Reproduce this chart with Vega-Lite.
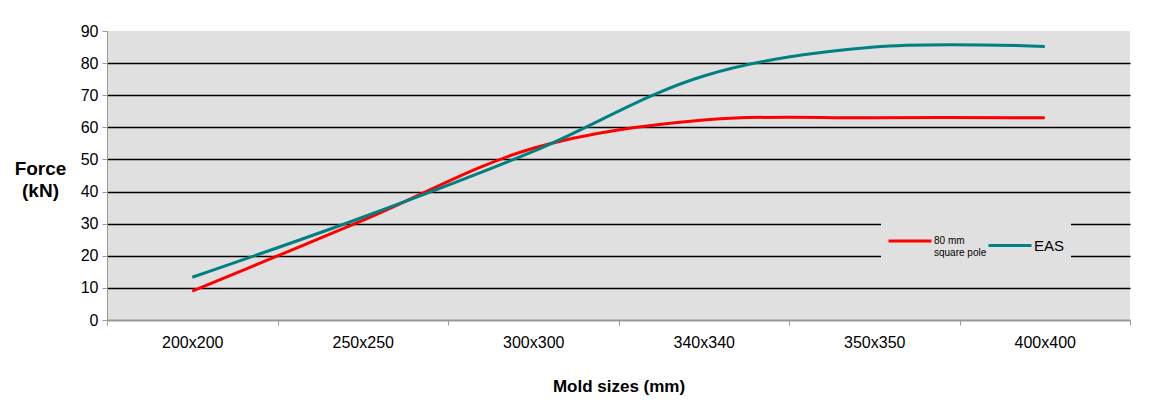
{
  "$schema": "https://vega.github.io/schema/vega-lite/v6.json",
  "width": 1023,
  "height": 289,
  "autosize": "none",
  "padding": {"left": 107, "top": 31, "right": 34, "bottom": 83},
  "background": "white",
  "config": {
    "font": "Liberation Sans",
    "view": {"fill": "#e0e0e0", "stroke": null}
  },
  "data": {
    "values": [
      {"size": "200x200", "series": "80 mm square pole", "force": 9},
      {"size": "250x250", "series": "80 mm square pole", "force": 31},
      {"size": "300x300", "series": "80 mm square pole", "force": 53.5},
      {"size": "340x340", "series": "80 mm square pole", "force": 62.3},
      {"size": "350x350", "series": "80 mm square pole", "force": 63},
      {"size": "400x400", "series": "80 mm square pole", "force": 63},
      {"size": "200x200", "series": "EAS", "force": 13.3},
      {"size": "250x250", "series": "EAS", "force": 32},
      {"size": "300x300", "series": "EAS", "force": 52.5},
      {"size": "340x340", "series": "EAS", "force": 76},
      {"size": "350x350", "series": "EAS", "force": 85},
      {"size": "400x400", "series": "EAS", "force": 85.2}
    ]
  },
  "mark": {"type": "line", "interpolate": "catmull-rom", "strokeWidth": 3},
  "encoding": {
    "x": {
      "field": "size",
      "type": "nominal",
      "sort": null,
      "scale": {"type": "band", "paddingInner": 0, "paddingOuter": 0},
      "axis": {
        "title": "Mold sizes (mm)",
        "titleFontSize": 17,
        "titleFontWeight": "bold",
        "titleColor": "black",
        "titlePadding": 28,
        "labelAngle": 0,
        "labelFontSize": 16,
        "labelColor": "black",
        "labelPadding": 9,
        "tickBand": "extent",
        "tickColor": "#999999",
        "tickSize": 5,
        "domainColor": "#999999",
        "domainWidth": 2,
        "grid": false
      }
    },
    "y": {
      "field": "force",
      "type": "quantitative",
      "scale": {"domain": [0, 90], "nice": false},
      "axis": {
        "values": [0, 10, 20, 30, 40, 50, 60, 70, 80, 90],
        "title": ["Force", "(kN)"],
        "titleAngle": 0,
        "titleFontSize": 19,
        "titleFontWeight": "bold",
        "titleColor": "black",
        "titleAlign": "center",
        "titleBaseline": "middle",
        "titleLineHeight": 22,
        "titleX": -67,
        "titleY": 137,
        "labelFontSize": 16,
        "labelColor": "black",
        "labelPadding": 4,
        "tickColor": "#999999",
        "tickSize": 5,
        "domainColor": "#999999",
        "grid": true,
        "gridColor": "black",
        "gridWidth": 1.5,
        "gridOpacity": {"condition": {"test": "datum.value == 0 || datum.value == 90", "value": 0}, "value": 1}
      }
    },
    "color": {
      "field": "series",
      "type": "nominal",
      "scale": {"domain": ["80 mm square pole", "EAS"], "range": ["#ff0000", "#008080"]},
      "legend": {
        "title": null,
        "orient": "none",
        "legendX": 774,
        "legendY": 181,
        "direction": "horizontal",
        "fillColor": "#e0e0e0",
        "padding": 6,
        "symbolType": "stroke",
        "symbolSize": 1849,
        "symbolStrokeWidth": 3,
        "labelLimit": 200,
        "columnPadding": -5,
        "labelOffset": 1,
        "labelColor": "black",
        "labelExpr": "datum.label == '80 mm square pole' ? ['80 mm', 'square pole'] : datum.label",
        "encode": {
          "labels": {
            "update": {
              "fontSize": {"signal": "datum.label == 'EAS' ? 15 : 10"},
              "lineHeight": {"value": 12}
            }
          }
        }
      }
    }
  }
}
